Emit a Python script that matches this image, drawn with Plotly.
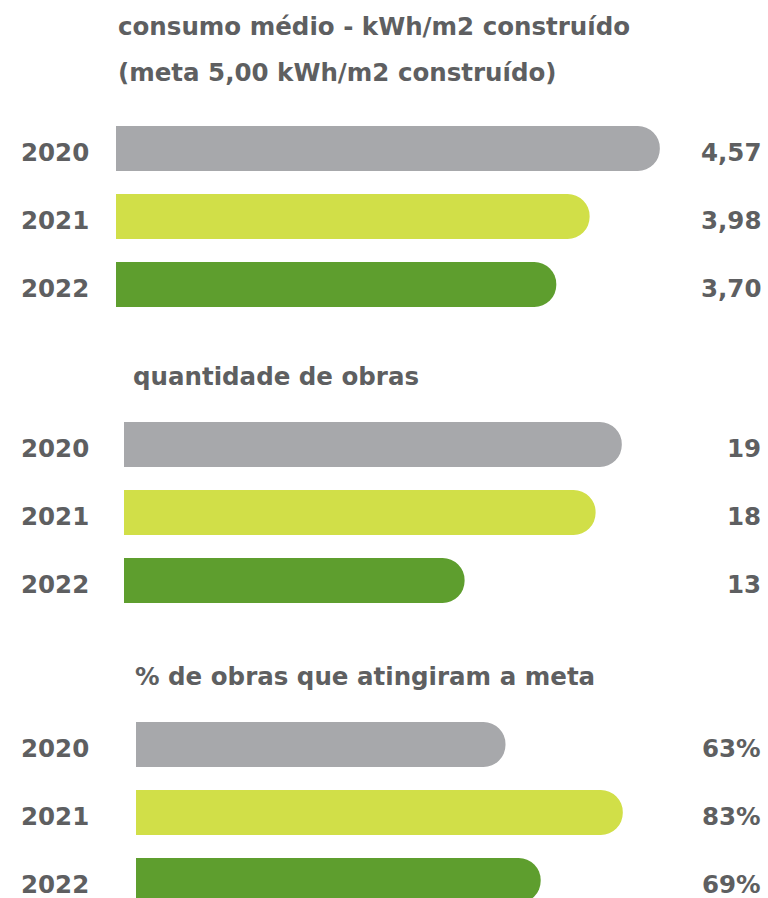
import plotly.graph_objects as go

# ---- data ----
years = ["2020", "2021", "2022"]
consumo = [4.57, 3.98, 3.70]
obras = [19, 18, 13]
pct_meta = [63, 83, 69]
title_consumo = ["consumo médio - kWh/m2 construído", "(meta 5,00 kWh/m2 construído)"]
title_obras = ["quantidade de obras"]
title_pct = ["% de obras que atingiram a meta"]
bar_colors = ["#A7A8AB", "#D1DF48", "#5E9E2E"]

W, H = 768, 898
TXT = "#5E5F61"
FONT = "DejaVu Sans"
FS = 24.5

def fmt_dec(v):
    return f"{v:.2f}".replace(".", ",")

panels = [
    dict(vals=consumo, labels=[fmt_dec(v) for v in consumo], x0=116, s=119.0,
         ytop=114.5, ybot=318.5, titles=title_consumo, tx=116, ty=[26, 72]),
    dict(vals=obras, labels=[str(v) for v in obras], x0=124, s=26.2,
         ytop=410.5, ybot=614.5, titles=title_obras, tx=131, ty=[376]),
    dict(vals=pct_meta, labels=[f"{v}%" for v in pct_meta], x0=136, s=5.865,
         ytop=710.5, ybot=898, titles=title_pct, tx=133, ty=[676]),
]

fig = go.Figure()
annotations = []
step = 68.0
font = dict(family=FONT, size=FS, color=TXT, weight=700)
for i, p in enumerate(panels, start=1):
    xa = "x" if i == 1 else f"x{i}"
    ya = "y" if i == 1 else f"y{i}"
    sfx = "" if i == 1 else str(i)
    fig.add_trace(go.Bar(
        x=p["vals"], y=years, orientation="h",
        marker=dict(color=bar_colors, cornerradius=22, line=dict(width=0)),
        xaxis=xa, yaxis=ya, hoverinfo="skip", showlegend=False,
    ))
    width_px = W - p["x0"]
    ncat = (p["ybot"] - p["ytop"]) / step
    fig.layout[f"xaxis{sfx}"] = dict(
        domain=[p["x0"] / W, 1], range=[0, width_px / p["s"]],
        visible=False, anchor=ya, fixedrange=True,
    )
    fig.layout[f"yaxis{sfx}"] = dict(
        domain=[1 - p["ybot"] / H, 1 - p["ytop"] / H],
        type="category", categoryorder="array", categoryarray=years,
        range=[ncat - 0.5, -0.5], autorange=False,
        showgrid=False, zeroline=False, showline=False, ticks="",
        showticklabels=False, anchor=xa, fixedrange=True,
    )
    for k, (yr, lab) in enumerate(zip(years, p["labels"])):
        annotations.append(dict(
            xref="paper", x=763 / W, xanchor="right",
            yref=ya, y=k, yanchor="middle", yshift=-4,
            text=lab, showarrow=False, font=font,
        ))
        annotations.append(dict(
            xref="paper", x=55 / W, xanchor="center",
            yref=ya, y=k, yanchor="middle", yshift=-4,
            text=yr, showarrow=False, font=font,
        ))
    for t, ty in zip(p["titles"], p["ty"]):
        annotations.append(dict(
            xref="paper", x=p["tx"] / W, xanchor="left",
            yref="paper", y=1 - ty / H, yanchor="middle",
            text=t, showarrow=False, font=font,
        ))

fig.update_layout(
    width=W, height=H,
    margin=dict(l=0, r=0, t=0, b=0),
    paper_bgcolor="white", plot_bgcolor="white",
    bargap=1 - 45 / step,
    annotations=annotations,
)

fig.write_html("out.html", config={"displayModeBar": False},
               post_script="document.body.style.margin='0px';")
